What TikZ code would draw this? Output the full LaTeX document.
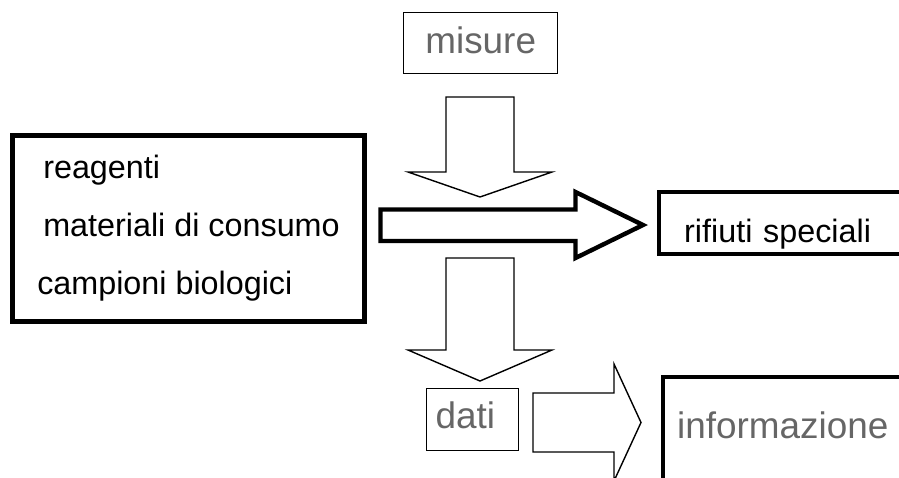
\documentclass[tikz,border=0pt]{standalone}
\usepackage{fontspec}
\setmainfont{Liberation Sans}
\usepackage{xcolor}
\usepackage{tikz}
\definecolor{softgray}{RGB}{102,102,102}

\begin{document}
\begin{tikzpicture}[
  x=0.02cm, y=-0.02cm,
  thick_box/.style={draw, line width=2.5pt, inner ysep=0pt},
  thin_box/.style={draw, line width=0.8pt, inner ysep=0pt},
  black_text/.style={font=\fontsize{18.4}{33}\selectfont},
  gray_text/.style={font=\fontsize{21}{25}\selectfont, text=softgray},
  thin_arrow/.style={draw, line width=0.8pt, fill=white},
  thick_arrow/.style={draw, line width=2.5pt, fill=white},
]
\useasboundingbox (0,0) rectangle (899,477);

\node[thin_box, gray_text, anchor=north west, minimum width=3.08cm,
  text height=0.82cm, text depth=0.4cm] (misure) at (403,12) {misure};
\node[thick_box, black_text, align=left, minimum width=7.04cm,
  minimum height=3.72cm] (inputs) at (188.5,228.5)
  {\hspace*{0.12cm}reagenti\\\hspace*{0.12cm}materiali di consumo\\campioni biologici};
\node[thick_box, black_text, anchor=north west, align=left, inner xsep=0.5cm,
  text width=5cm, text height=1cm, text depth=0.24cm] (rifiuti) at (657,190)
  {rifiuti speciali};
\node[thin_box, gray_text, anchor=north west, align=left, inner xsep=0.18cm,
  text width=1.48cm, text height=0.8cm, text depth=0.44cm] (dati) at (426,388)
  {dati};
\node[thick_box, gray_text, anchor=north west, align=left, inner xsep=0.28cm,
  text width=5.44cm, text height=1.22cm, text depth=2cm] (info) at (661,375)
  {informazione};

\draw[thin_arrow] (446,97) -- (514,97) -- (514,172) -- (552,172)
  -- (480,197) -- (408,172) -- (446,172) -- cycle;
\draw[thick_arrow] (380.5,209.5) -- (575.5,209.5) -- (575.5,192)
  -- (643,225) -- (575.5,258) -- (575.5,241) -- (380.5,241) -- cycle;
\draw[thin_arrow] (446,258) -- (514,258) -- (514,350) -- (552,350)
  -- (480,381) -- (408,350) -- (446,350) -- cycle;
\draw[thin_arrow] (533,393) -- (614,393) -- (614,364) -- (641,422.5)
  -- (614,481) -- (614,452) -- (533,452) -- cycle;
\end{tikzpicture}
\end{document}
